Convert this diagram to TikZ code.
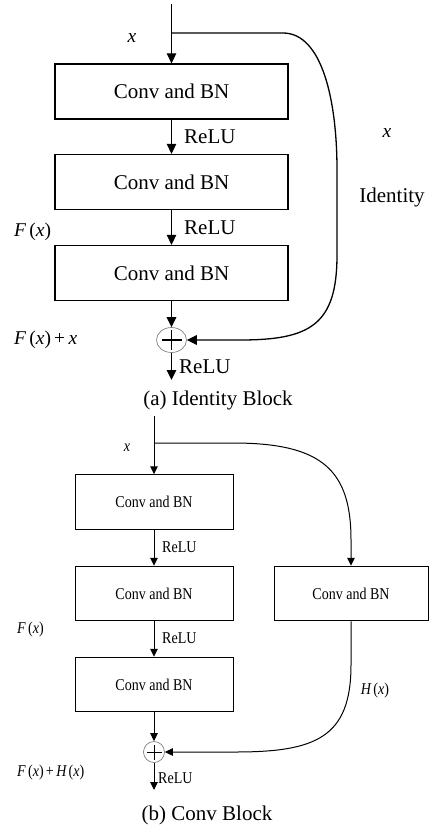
\documentclass[tikz,border=0pt]{standalone}
\usepackage{graphicx}
\usepackage{fontspec}
\setmainfont{Liberation Serif}
\usetikzlibrary{arrows.meta,shapes.geometric}
\newcommand{\bigf}{\fontsize{21}{25}\selectfont}
\newcommand{\labf}{\fontsize{19.5}{23}\selectfont}
\newcommand{\smf}{\fontsize{16.5}{20}\selectfont}
\newcommand{\capf}{\fontsize{21}{25}\selectfont}
\newcommand{\cond}[1]{\scalebox{0.85}[1]{#1}}
\begin{document}
\begin{tikzpicture}[x=1pt,y=-1pt,
  boxa/.style={draw,line width=1.3pt,minimum width=233pt,minimum height=55pt,inner sep=0pt,font=\bigf},
  boxb/.style={draw,line width=1pt,minimum width=158pt,minimum height=54.5pt,inner sep=0pt,font=\smf},
  arra/.style={line width=1.3pt,-{Triangle[length=10pt,width=9.5pt]}},
  arrb/.style={line width=1pt,-{Triangle[length=8pt,width=7.5pt]}},
  lbl/.style={inner sep=0pt},
  plusc/.style={ellipse,draw=gray,line width=0.7pt,inner sep=0pt},
]
\useasboundingbox (0,0) rectangle (429,829);
% ---------- (a) Identity block ----------
\coordinate (ain) at (171.5,4);
\coordinate (abr) at (171.5,33);
\node[boxa] (a1) at (171.5,91.5) {Conv and BN};
\node[boxa] (a2) at (171.5,182) {Conv and BN};
\node[boxa] (a3) at (171.5,273) {Conv and BN};
\node[plusc,minimum width=30pt,minimum height=25pt] (p1) at (171.5,340) {};
\coordinate (aout) at (171.5,380);
\draw[line width=1.3pt] ([xshift=-10pt]p1.center) -- ([xshift=10pt]p1.center)
  ([yshift=-10pt]p1.center) -- ([yshift=10pt]p1.center);
\draw[arra] (ain) -- (a1.north);
\draw[arra] (a1.south) -- (a2.north);
\draw[arra] (a2.south) -- (a3.north);
\draw[arra] (a3.south) -- (p1.north);
\draw[arra] (p1.south) -- (aout);
\draw[arra] (abr) -- (283,33) .. controls (322,33) and (337,100) .. (337,170)
  -- (337,255) .. controls (337,325) and (310,340) .. (240,340) -- (p1.east);
\node[lbl,font=\bigf,anchor=west] (ar1) at (184,137) {ReLU};
\node[lbl,font=\bigf,anchor=west] (ar2) at (184,228) {ReLU};
\node[lbl,font=\bigf,anchor=west] (ar3) at (179,367) {ReLU};
\node[lbl,font=\bigf] (aid) at (392,197) {Identity};
\node[lbl,font=\labf] (ax1) at (132,38) {\itshape x};
\node[lbl,font=\labf] (ax2) at (387,133) {\itshape x};
\node[lbl,font=\labf,anchor=west] (afx) at (14,232) {{\itshape F}\,({\itshape x})};
\node[lbl,font=\labf,anchor=west] (afxx) at (14,340) {{\itshape F}\,({\itshape x})\,+\,{\itshape x}};
\node[lbl,font=\capf] (acap) at (218,400) {(a) Identity Block};
% ---------- (b) Conv block ----------
\coordinate (bin) at (154,416);
\coordinate (bbr) at (154,443);
\node[boxb] (b1) at (154,502) {\cond{Conv and BN}};
\node[boxb] (b2) at (154,593.5) {\cond{Conv and BN}};
\node[boxb] (b3) at (154,684.5) {\cond{Conv and BN}};
\node[boxb,minimum width=154pt] (rb) at (351,593.5) {\cond{Conv and BN}};
\node[plusc,minimum width=21pt,minimum height=21pt] (p2) at (154,752) {};
\coordinate (bout) at (154,790);
\draw[line width=1pt] ([xshift=-7.5pt]p2.center) -- ([xshift=7.5pt]p2.center)
  ([yshift=-7.5pt]p2.center) -- ([yshift=7.5pt]p2.center);
\draw[arrb] (bin) -- (b1.north);
\draw[arrb] (b1.south) -- (b2.north);
\draw[arrb] (b2.south) -- (b3.north);
\draw[arrb] (b3.south) -- (p2.north);
\draw[arrb] (p2.south) -- (bout);
\draw[arrb] (bbr) -- (233,443) .. controls (322,443) and (351,470) .. (351,540) -- (rb.north);
\draw[arrb] (rb.south) -- (351,665) .. controls (351,738) and (315,752) .. (235,752) -- (p2.east);
\node[lbl,font=\smf,anchor=west] (br1) at (162,547) {\cond{ReLU}};
\node[lbl,font=\smf,anchor=west] (br2) at (162,638) {\cond{ReLU}};
\node[lbl,font=\smf,anchor=west] (br3) at (158,778) {\cond{ReLU}};
\node[lbl,font=\smf] (bx) at (127,448) {\cond{\itshape x}};
\node[lbl,font=\smf] (bhx) at (375,691) {\cond{{\itshape H}\,({\itshape x})}};
\node[lbl,font=\smf,anchor=west] (bfx) at (17,630) {\cond{{\itshape F}\,({\itshape x})}};
\node[lbl,font=\smf,anchor=west] (bfh) at (17,773) {\cond{{\itshape F}\,({\itshape x})\,+\,{\itshape H}\,({\itshape x})}};
\node[lbl,font=\capf] (bcap) at (207,815) {(b) Conv Block};
\end{tikzpicture}
\end{document}
